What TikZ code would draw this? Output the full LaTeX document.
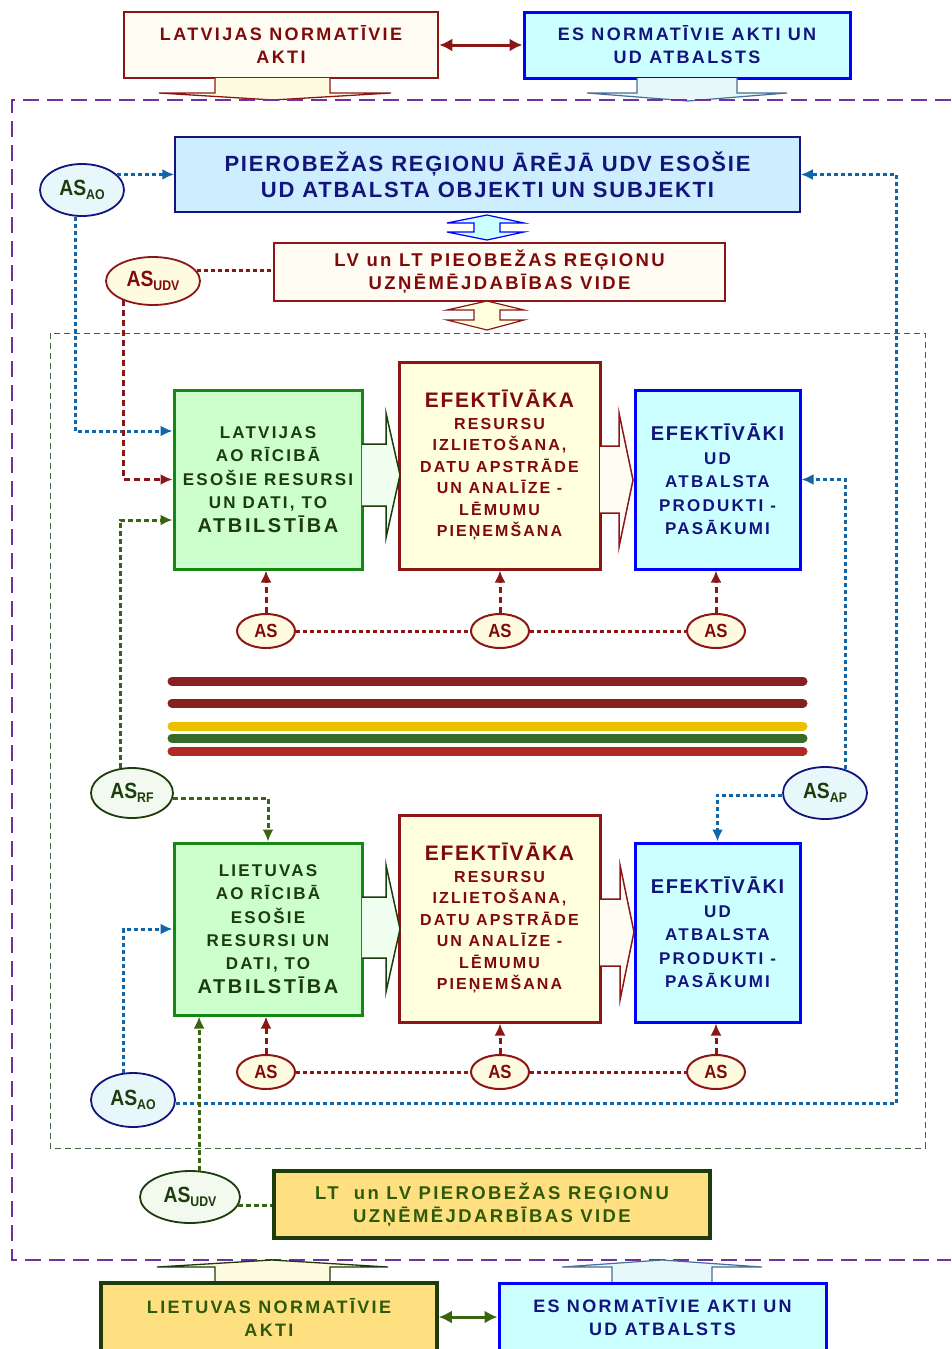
\documentclass[tikz,border=0pt]{standalone}
\usepackage{fontspec}
\setmainfont{Liberation Sans}
\newfontfamily\wf{Liberation Sans}[LetterSpace=13]
\newfontfamily\tf{Liberation Sans}[LetterSpace=8]
\newfontfamily\nf{Liberation Sans}[FakeStretch=0.88]
\usetikzlibrary{arrows.meta,shapes.geometric,calc}

\definecolor{dred}{RGB}{128,10,10}
\definecolor{dredb}{RGB}{140,22,22}
\definecolor{navy}{RGB}{20,20,125}
\definecolor{bblue}{RGB}{0,0,255}
\definecolor{dgreen}{RGB}{28,60,12}
\definecolor{gborder}{RGB}{20,135,20}
\definecolor{olive}{RGB}{46,90,10}
\definecolor{lgreen}{RGB}{204,255,204}
\definecolor{lcyan}{RGB}{204,255,255}
\definecolor{lyel}{RGB}{255,255,221}
\definecolor{cream}{RGB}{255,253,243}
\definecolor{gold}{RGB}{255,224,128}
\definecolor{pierfill}{RGB}{204,238,255}
\definecolor{lnblue}{RGB}{20,100,168}
\definecolor{purp}{RGB}{112,48,160}
\definecolor{frameg}{RGB}{64,100,64}
\definecolor{lngreen}{RGB}{58,100,16}
\definecolor{steel}{RGB}{70,110,150}
\definecolor{paleblue}{RGB}{232,248,250}
\definecolor{palegreen}{RGB}{242,250,240}
\definecolor{paleyel}{RGB}{255,251,224}
\definecolor{stripeA}{RGB}{136,32,30}
\definecolor{stripeB}{RGB}{236,192,0}
\definecolor{stripeC}{RGB}{54,106,40}
\definecolor{stripeD}{RGB}{176,42,36}

\tikzset{
  box/.style={rectangle, inner sep=0pt, align=center, font=\wf\bfseries},
  oval/.style={ellipse, inner sep=0pt, line width=1.8pt, font=\nf\bfseries\fontsize{22}{22}\selectfont},
  asoval/.style={ellipse, inner sep=0pt, minimum width=58pt, minimum height=34pt,
    line width=2pt, draw=dredb, fill=paleyel, text=dred,
    font=\nf\bfseries\fontsize{19}{19}\selectfont},
  tip/.style={-{Latex[length=12pt,width=11pt]}},
  bline/.style={draw=lnblue, line width=3pt, dash pattern=on 4pt off 3pt},
  rdot/.style={draw=dredb, line width=3pt, dash pattern=on 4pt off 3pt},
  rdash/.style={draw=dredb, line width=3pt, dash pattern=on 6pt off 4pt},
  gline/.style={draw=lngreen, line width=3pt, dash pattern=on 5pt off 3pt},
  stripe/.style={line width=9pt, line cap=round},
  garrow/.style={draw=dgreen, fill=green!6, line width=1.5pt, line join=miter},
  rarrow/.style={draw=dredb, fill=cream, line width=1.5pt, line join=miter},
  dbl/.style={line width=3pt, {Latex[length=13pt,width=13pt]}-{Latex[length=13pt,width=13pt]}},
}

\newcommand{\subl}[1]{\raisebox{-4pt}{\fontsize{14}{14}\selectfont #1}}

\begin{document}
\begin{tikzpicture}[x=1pt,y=-1pt]
\useasboundingbox (0,0) rectangle (951,1349);
\fill[white] (0,0) rectangle (951,1349);

% ---- frames
\draw[frameg, line width=1pt, dash pattern=on 6pt off 4pt] (50,333) rectangle (925,1148);

% ---- top normative acts
\node[box, draw=dredb, fill=cream, line width=2.5pt, minimum width=314pt, minimum height=66pt,
  text=dred, font=\wf\bfseries\fontsize{18}{23}\selectfont] (latTop) at (281,45)
  {LATVIJAS NORMATĪVIE\\AKTI};
\node[box, draw=bblue, fill=lcyan, line width=3pt, minimum width=326pt, minimum height=66pt,
  text=navy, font=\wf\bfseries\fontsize{18}{23}\selectfont] (esTop) at (687,45)
  {ES NORMATĪVIE AKTI UN\\UD ATBALSTS};
\draw[dredb, dbl] (latTop.east) -- (esTop.west);

% block arrows pointing into the region
\draw[draw=dredb, fill=paleyel, line width=1.3pt]
  (215,78) -- (215,93) -- (159,93) -- (273,100) -- (391,93) -- (330,93) -- (330,78);
\draw[draw=steel, fill=paleblue, line width=1.2pt]
  (637,78) -- (637,93) -- (587,93) -- (688,101) -- (787,93) -- (737,93) -- (737,78);

% outer region border
\draw[purp, line width=2pt, dash pattern=on 16pt off 8pt] (951,100) -- (12,100) -- (12,1260) -- (951,1260);

% ---- external support box and business environment
\node[box, draw=navy, fill=pierfill, line width=1.5pt, minimum width=625pt, minimum height=75pt,
  text=navy, font=\tf\bfseries\fontsize{22}{26}\selectfont] (pier) at (487.5,174.5)
  {PIEROBEŽAS REĢIONU ĀRĒJĀ UDV ESOŠIE\\UD ATBALSTA OBJEKTI UN SUBJEKTI};
\node[box, draw=dredb, fill=cream, line width=2.5pt, minimum width=451pt, minimum height=58pt,
  text=dred, font=\wf\bfseries\fontsize{18.5}{23}\selectfont] (lvlt) at (499.5,272)
  {LV un LT PIEOBEŽAS REĢIONU\\UZŅĒMĒJDABĪBAS VIDE};

\draw[draw=bblue, fill=lcyan, line width=1.2pt]
  (487,215) -- (524,223) -- (500,223) -- (500,232) -- (524,232) -- (487,240)
  -- (447,232) -- (474,232) -- (474,223) -- (447,223) -- cycle;
\draw[draw=dredb, fill=lyel, line width=1.2pt]
  (487,301) -- (524,310) -- (500,310) -- (500,320) -- (524,320) -- (487,330)
  -- (447,320) -- (474,320) -- (474,310) -- (447,310) -- cycle;

% ---- Latvian row
\node[box, draw=gborder, fill=lgreen, line width=3pt, minimum width=188pt, minimum height=179pt,
  text=dgreen, font=\wf\bfseries\fontsize{17}{23.5}\selectfont] (lvG) at (268,479.5)
  {LATVIJAS\\AO RĪCIBĀ\\ESOŠIE RESURSI\\UN DATI, TO\\{\fontsize{20}{23.5}\selectfont ATBILSTĪBA}};
\node[box, draw=dredb, fill=lyel, line width=3pt, minimum width=201pt, minimum height=207pt,
  text=dred, font=\wf\bfseries\fontsize{16}{21.5}\selectfont] (eff1) at (499.5,465.5)
  {{\tf\fontsize{21}{21.5}\selectfont EFEKTĪVĀKA}\\RESURSU\\IZLIETOŠANA,\\DATU APSTRĀDE\\UN ANALĪZE -\\LĒMUMU\\PIEŅEMŠANA};
\node[box, draw=bblue, fill=lcyan, line width=3pt, minimum width=165pt, minimum height=179pt,
  text=navy, font=\wf\bfseries\fontsize{17}{23.5}\selectfont] (ud1) at (717.5,479.5)
  {{\tf\fontsize{20}{23.5}\selectfont EFEKTĪVĀKI}\\UD\\ATBALSTA\\PRODUKTI -\\PASĀKUMI};

\draw[garrow] (362,444) -- (386,444) -- (386,413) -- (400,475) -- (386,538) -- (386,506) -- (362,506);
\draw[rarrow] (600,446) -- (619,446) -- (619,413) -- (633,480) -- (619,547) -- (619,513) -- (600,513);

\node[asoval] (as11) at (266,631) {AS};
\node[asoval] (as12) at (500,631) {AS};
\node[asoval] (as13) at (716,631) {AS};
\draw[rdot] (as11.east) -- (as12.west);
\draw[rdot] (as12.east) -- (as13.west);
\draw[rdash, tip] (as11.north) -- (as11.north |- lvG.south);
\draw[rdash, tip] (as12.north) -- (as12.north |- eff1.south);
\draw[rdash, tip] (as13.north) -- (as13.north |- ud1.south);

% ---- national colour stripes
\draw[stripe, stripeA] (172,681) -- (803,681);
\draw[stripe, stripeA] (172,703) -- (803,703);
\draw[stripe, stripeB] (172,726) -- (803,726);
\draw[stripe, stripeC] (172,738) -- (803,738);
\draw[stripe, stripeD] (172,751) -- (803,751);

% ---- Lithuanian row
\node[box, draw=gborder, fill=lgreen, line width=3pt, minimum width=188pt, minimum height=172pt,
  text=dgreen, font=\wf\bfseries\fontsize{17}{23.3}\selectfont] (ltG) at (268,929)
  {LIETUVAS\\AO RĪCIBĀ\\ESOŠIE\\RESURSI UN\\DATI, TO\\{\fontsize{20}{23.3}\selectfont ATBILSTĪBA}};
\node[box, draw=dredb, fill=lyel, line width=3pt, minimum width=201pt, minimum height=207pt,
  text=dred, font=\wf\bfseries\fontsize{16}{21.5}\selectfont] (eff2) at (499.5,918.5)
  {{\tf\fontsize{21}{21.5}\selectfont EFEKTĪVĀKA}\\RESURSU\\IZLIETOŠANA,\\DATU APSTRĀDE\\UN ANALĪZE -\\LĒMUMU\\PIEŅEMŠANA};
\node[box, draw=bblue, fill=lcyan, line width=3pt, minimum width=165pt, minimum height=179pt,
  text=navy, font=\wf\bfseries\fontsize{17}{23.5}\selectfont] (ud2) at (717.5,932.5)
  {{\tf\fontsize{20}{23.5}\selectfont EFEKTĪVĀKI}\\UD\\ATBALSTA\\PRODUKTI -\\PASĀKUMI};

\draw[garrow] (362,897) -- (386,897) -- (386,865) -- (400,929) -- (386,992) -- (386,958) -- (362,958);
\draw[rarrow] (600,899) -- (620,899) -- (620,865) -- (634,932) -- (620,1000) -- (620,966) -- (600,966);

\node[asoval] (as21) at (266,1072) {AS};
\node[asoval] (as22) at (500,1072) {AS};
\node[asoval] (as23) at (716,1072) {AS};
\draw[rdot] (as21.east) -- (as22.west);
\draw[rdot] (as22.east) -- (as23.west);
\draw[rdash, tip] (as21.north) -- (as21.north |- ltG.south);
\draw[rdash, tip] (as22.north) -- (as22.north |- eff2.south);
\draw[rdash, tip] (as23.north) -- (as23.north |- ud2.south);

% ---- support subjects (ovals)
\node[oval, draw=navy, fill=paleblue, minimum width=84pt, minimum height=52pt, text=dgreen] (aoT) at (82,190) {AS\subl{AO}};
\node[oval, draw=dredb, fill=paleyel, minimum width=94pt, minimum height=48pt, text=dred] (udvT) at (153,281) {AS\subl{UDV}};
\node[oval, draw=dgreen, fill=palegreen, minimum width=82pt, minimum height=50pt, text=dgreen] (rf) at (132,793) {AS\subl{RF}};
\node[oval, draw=navy, fill=paleblue, minimum width=84pt, minimum height=52pt, text=dgreen] (ap) at (825,793) {AS\subl{AP}};
\node[oval, draw=navy, fill=paleblue, minimum width=84pt, minimum height=54pt, text=dgreen] (aoB) at (133,1100) {AS\subl{AO}};
\node[oval, draw=dgreen, fill=palegreen, minimum width=100pt, minimum height=52pt, text=dgreen] (udvB) at (190,1197) {AS\subl{UDV}};

% ---- Lithuanian business environment
\node[box, draw=dgreen, fill=gold, line width=3.5pt, minimum width=436pt, minimum height=67pt,
  text=olive, font=\wf\bfseries\fontsize{18.5}{23}\selectfont] (ltlv) at (492,1204.5)
  {LT\ \ un LV PIEROBEŽAS REĢIONU\\UZŅĒMĒJDARBĪBAS VIDE};

% ---- connectors
\coordinate (rc) at (896,174.5);
\draw[bline, tip] (aoT.24) -- (aoT.24 -| pier.west);
\draw[bline, tip] (aoT.257) |- ([yshift=48.5pt]lvG.west);
\draw[rdot] (udvT.13) -- (udvT.13 -| lvlt.west);
\draw[rdash, tip] (udvT.213) |- (lvG.west);
\draw[gline, tip] (rf.115) |- ([yshift=-40.5pt]lvG.west);
\draw[gline, tip] (rf.-7) -| (ltG.north);
\draw[bline, tip] (ap.49) |- (ud1.east);
\draw[bline, tip] (ap.183) -| (ud2.north);
\draw[bline, tip] (aoB.109) |- (ltG.west);
\draw[bline, tip] (aoB.-5) -| (rc) -- (pier.east);
\draw[gline, tip] (udvB.71) -- (udvB.71 |- ltG.south);
\draw[gline] (udvB.-10) -- (udvB.-10 -| ltlv.west);

% ---- bottom normative acts
\draw[draw=dgreen, fill=paleyel, line width=1.3pt]
  (215,1283) -- (215,1267) -- (157,1267) -- (272,1260) -- (388,1267) -- (330,1267) -- (330,1283);
\draw[draw=steel, fill=paleblue, line width=1.2pt]
  (612,1283) -- (612,1267) -- (562,1267) -- (662,1260) -- (762,1267) -- (712,1267) -- (712,1283);
\node[box, draw=dgreen, fill=gold, line width=3.5pt, minimum width=336pt, minimum height=68pt,
  text=olive, font=\wf\bfseries\fontsize{18}{23}\selectfont] (ltBot) at (269,1317)
  {LIETUVAS NORMATĪVIE\\AKTI};
\node[box, draw=bblue, fill=lcyan, line width=3pt, minimum width=327pt, minimum height=68pt,
  text=navy, font=\wf\bfseries\fontsize{18}{23}\selectfont] (esBot) at (662.5,1317)
  {ES NORMATĪVIE AKTI UN\\UD ATBALSTS};
\draw[lngreen, dbl] (ltBot.east) -- (esBot.west);
\end{tikzpicture}
\end{document}
